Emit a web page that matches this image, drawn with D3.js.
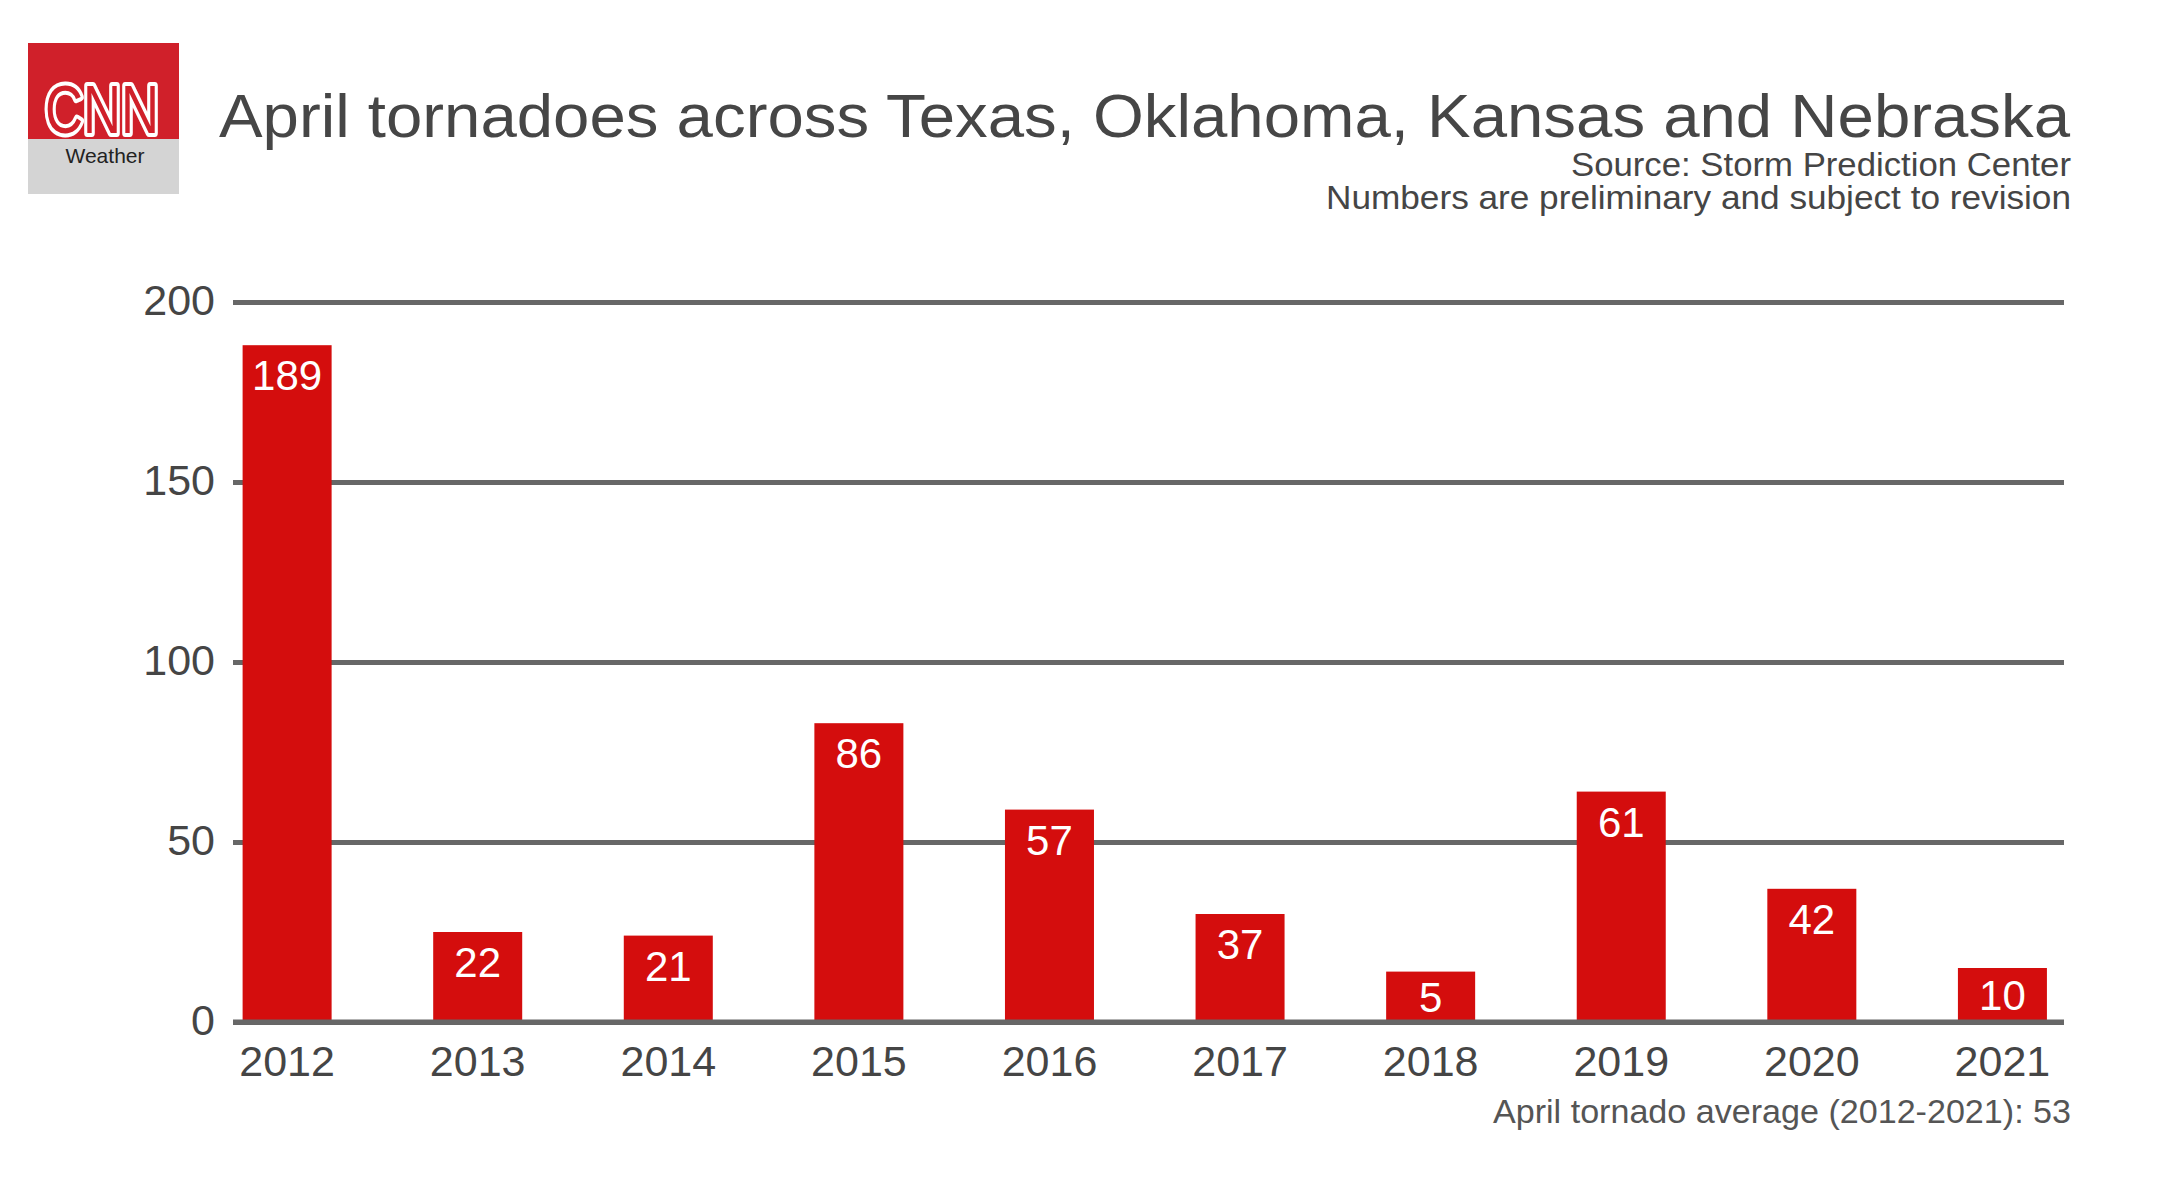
<!DOCTYPE html>
<html>
<head>
<meta charset="utf-8">
<script src="https://cdn.jsdelivr.net/npm/d3@7"></script>
<style>
  html, body { margin: 0; padding: 0; background: #ffffff; }
  svg { display: block; }
  text { font-family: "Liberation Sans", Arial, "Helvetica Neue", sans-serif; }
</style>
</head>
<body>
<script>
//data
const years = ["2012", "2013", "2014", "2015", "2016", "2017", "2018", "2019", "2020", "2021"];
// printed numbers on the bars
const countLabels = ["189", "22", "21", "86", "57", "37", "5", "61", "42", "10"];
// bar heights as drawn in the original (small bars were drawn taller than their number)
const drawnCounts = [188, 25, 24, 83, 59, 30, 14, 64, 37, 15];
const yTicks = [0, 50, 100, 150, 200];

const titleText = "April tornadoes across Texas, Oklahoma, Kansas and Nebraska";
const sourceLines = ["Source: Storm Prediction Center", "Numbers are preliminary and subject to revision"];
const noteText = "April tornado average (2012-2021): 53";

const width = 2160;
const height = 1177;
const margin = {
  top: 302,
  bottom: 155,
  left: 233,
  right: 96
};

const barColor = "#d40d0d";
const gridColor = "#676767";
const textColor = "#454545";

const svg = d3.select("body")
  .append("svg")
  .attr("viewBox", `0 0 ${width} ${height}`)
  .attr("width", width)
  .attr("height", height)
  .style("background", "#ffffff");

//scales
const xScale = d3.scaleBand()
  .domain(years)
  .range([margin.left, width - margin.right])
  .paddingInner(0.533)
  .paddingOuter(0.07)
  .align(0.36);

const yScale = d3.scaleLinear()
  .domain([0, 200])
  .range([height - margin.bottom, margin.top]);

//gridlines + y labels
const yAxis = d3.axisLeft(yScale)
  .tickValues(yTicks)
  .tickSize(-(width - margin.left - margin.right))
  .tickPadding(18);

const yAxisG = svg.append("g")
  .attr("class", "y-axis")
  .attr("transform", `translate(${margin.left}, 0)`)
  .call(yAxis);

yAxisG.select(".domain").remove();
yAxisG.selectAll(".tick line")
  .attr("stroke", gridColor)
  .attr("stroke-width", 5);
yAxisG.selectAll(".tick text")
  .attr("fill", textColor)
  .style("font-size", "43px")
  .attr("dy", "0.3em");

//bars
const barData = years.map((y, i) => ({ year: y, count: drawnCounts[i], label: countLabels[i] }));

svg.append("g")
  .selectAll("rect")
  .data(barData)
  .join("rect")
  .attr("x", d => xScale(d.year))
  .attr("y", d => yScale(d.count))
  .attr("width", xScale.bandwidth())
  .attr("height", d => yScale(0) - yScale(d.count))
  .attr("fill", barColor);

// zero line goes over the bar bottoms
svg.append("line")
  .attr("x1", margin.left)
  .attr("x2", width - margin.right)
  .attr("y1", yScale(0))
  .attr("y2", yScale(0))
  .attr("stroke", gridColor)
  .attr("stroke-width", 5);

//value labels inside the bars
svg.append("g")
  .selectAll("text")
  .data(barData)
  .join("text")
  .attr("x", d => xScale(d.year) + xScale.bandwidth() / 2)
  .attr("y", d => {
    const top = yScale(d.count);
    const mid = (top + yScale(0)) / 2;
    return Math.min(top + 45, mid + 15);
  })
  .attr("text-anchor", "middle")
  .attr("fill", "#ffffff")
  .style("font-size", "42px")
  .text(d => d.label);

//x labels
const xAxisG = svg.append("g")
  .attr("transform", `translate(0, ${yScale(0)})`)
  .call(d3.axisBottom(xScale).tickSize(0).tickPadding(0));

xAxisG.select(".domain").remove();
xAxisG.selectAll(".tick text")
  .attr("fill", textColor)
  .attr("dy", 0)
  .attr("y", 54)
  .style("font-size", "43px");

//title + source
svg.append("text")
  .attr("x", 219)
  .attr("y", 137)
  .attr("fill", "#464646")
  .attr("textLength", 1851)
  .attr("lengthAdjust", "spacingAndGlyphs")
  .style("font-size", "62px")
  .text(titleText);

const sourceWidths = [500, 745];
svg.append("g")
  .selectAll("text")
  .data(sourceLines)
  .join("text")
  .attr("x", 2071)
  .attr("y", (d, i) => 176 + i * 33)
  .attr("text-anchor", "end")
  .attr("fill", textColor)
  .attr("textLength", (d, i) => sourceWidths[i])
  .attr("lengthAdjust", "spacingAndGlyphs")
  .style("font-size", "33px")
  .text(d => d);

//average note
svg.append("text")
  .attr("x", 2071)
  .attr("y", 1123)
  .attr("text-anchor", "end")
  .attr("fill", "#555555")
  .attr("textLength", 578)
  .attr("lengthAdjust", "spacingAndGlyphs")
  .style("font-size", "34px")
  .text(noteText);

//CNN weather logo
const logo = svg.append("g").attr("transform", "translate(28, 43)");
logo.append("rect")
  .attr("width", 151).attr("height", 96)
  .attr("fill", "#d0202a");
logo.append("rect")
  .attr("y", 96)
  .attr("width", 151).attr("height", 55)
  .attr("fill", "#d4d4d4");
logo.append("text")
  .attr("x", 17).attr("y", 90)
  .attr("textLength", 114)
  .attr("lengthAdjust", "spacingAndGlyphs")
  .attr("fill", "#ffffff")
  .attr("stroke", "#ffffff")
  .attr("stroke-width", 8)
  .attr("stroke-linejoin", "round")
  .style("font-size", "68px")
  .text("CNN");
logo.append("text")
  .attr("x", 17).attr("y", 90)
  .attr("textLength", 114)
  .attr("lengthAdjust", "spacingAndGlyphs")
  .attr("fill", "#d0202a")
  .style("font-size", "68px")
  .text("CNN");
logo.append("text")
  .attr("x", 77).attr("y", 120)
  .attr("text-anchor", "middle")
  .attr("fill", "#222222")
  .style("font-size", "21px")
  .text("Weather");
</script>
</body>
</html>
